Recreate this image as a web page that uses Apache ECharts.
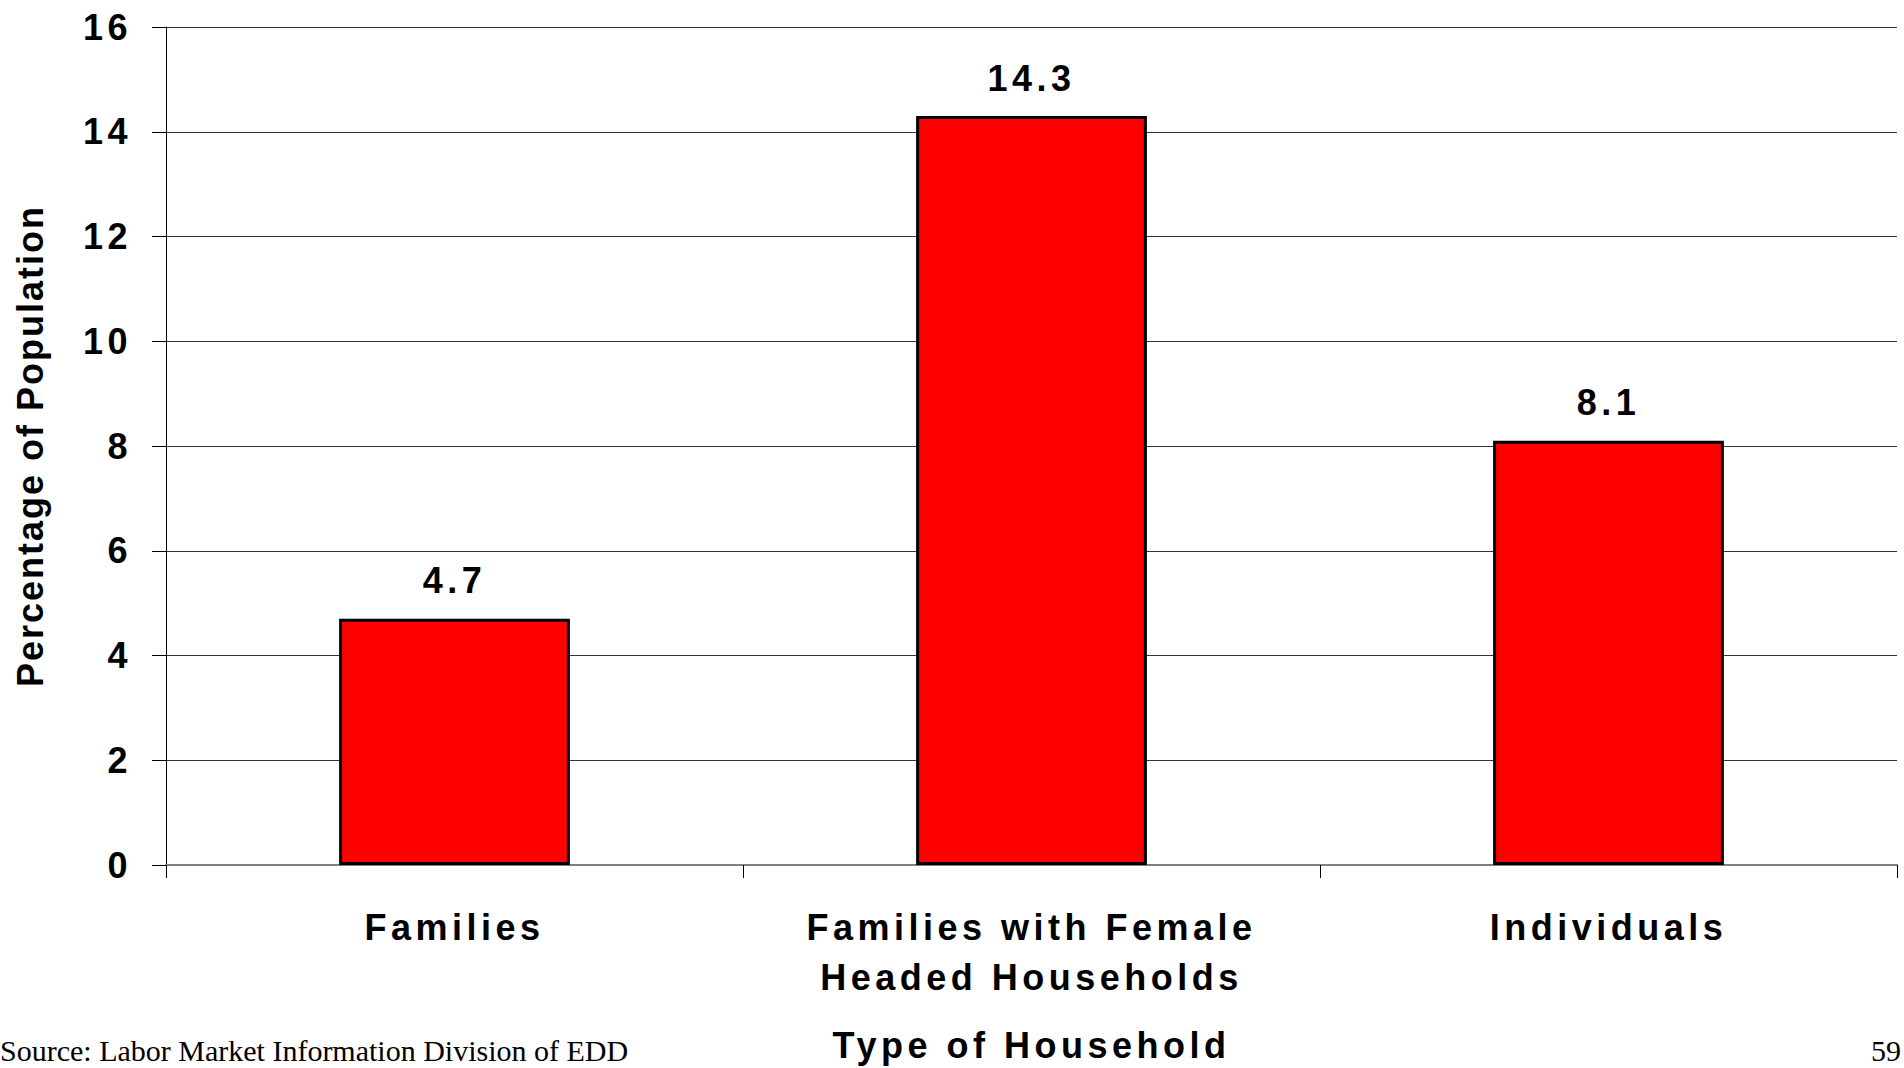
<!DOCTYPE html>
<html>
<head>
<meta charset="utf-8">
<script src="https://cdn.jsdelivr.net/npm/echarts@6/dist/echarts.min.js"></script>
<style>
html,body{margin:0;padding:0;background:#fff;}
#chart{width:1904px;height:1068px;}
</style>
</head>
<body>
<div id="chart"></div>
<script>
const categories = ['Families', 'Families with Female\nHeaded Households', 'Individuals'];
const values = [4.7, 14.3, 8.1];
const yTicks = { min: 0, max: 16, interval: 2 };
const yAxisTitle = 'Percentage of Population';
const xAxisTitle = 'Type of Household';
const sourceText = 'Source: Labor Market Information Division of EDD';
const pageNumber = '59';

const SANS = "'Liberation Sans', Arial, Helvetica, sans-serif";
const SERIF = "'Liberation Serif', 'Times New Roman', serif";

const chart = echarts.init(document.getElementById('chart'), null, { renderer: 'svg' });
chart.setOption({
  animation: false,
  backgroundColor: '#ffffff',
  grid: { left: 166, right: 7, top: 27, bottom: 198, containLabel: false },
  xAxis: {
    type: 'category',
    data: categories,
    name: xAxisTitle,
    nameLocation: 'middle',
    nameGap: 162,
    nameTextStyle: { fontFamily: SANS, fontWeight: 'bold', fontSize: 36, color: '#000' },
    axisLine: { show: true, lineStyle: { color: '#808080', width: 2 } },
    axisTick: { show: true, length: 13, alignWithLabel: false, lineStyle: { color: '#000', width: 1 } },
    axisLabel: { interval: 0, margin: 37, fontFamily: SANS, fontWeight: 'bold', fontSize: 36, lineHeight: 50, color: '#000' },
    splitLine: { show: false }
  },
  yAxis: {
    type: 'value',
    min: yTicks.min, max: yTicks.max, interval: yTicks.interval,
    name: yAxisTitle,
    nameLocation: 'middle',
    nameGap: 118,
    nameTextStyle: { fontFamily: SANS, fontWeight: 'bold', fontSize: 36, color: '#000' },
    axisLine: { show: true, lineStyle: { color: '#000', width: 1 } },
    axisTick: { show: true, length: 14, inside: false, lineStyle: { color: '#000', width: 1 } },
    axisLabel: { margin: 34, fontFamily: SANS, fontWeight: 'bold', fontSize: 36, color: '#000' },
    splitLine: { show: true, lineStyle: { color: '#333', width: 1 } }
  },
  series: [{
    type: 'bar',
    data: values,
    barWidth: '40%',
    itemStyle: { color: '#ff0000', borderColor: '#000', borderWidth: 3 },
    label: {
      show: true, position: 'top', distance: 20,
      fontFamily: SANS, fontWeight: 'bold', fontSize: 36, color: '#000',
      formatter: p => p.value.toFixed(1)
    }
  }],
  graphic: [
    { type: 'text', left: 0, top: 1034, style: { text: sourceText, fontFamily: SERIF, fontSize: 30, lineHeight: 32, fill: '#000' } },
    { type: 'text', right: 3, top: 1034, style: { text: pageNumber, fontFamily: SERIF, fontSize: 30, lineHeight: 32, fill: '#000' } }
  ]
});

// letter spacing like the reference's spaced bold lettering
document.querySelectorAll('#chart text').forEach(t => {
  const s = t.textContent;
  if (s === sourceText || s === pageNumber) return;
  if (s === yAxisTitle) { t.style.letterSpacing = '2px'; return; }
  t.style.letterSpacing = '4.5px';
});
</script>
</body>
</html>
